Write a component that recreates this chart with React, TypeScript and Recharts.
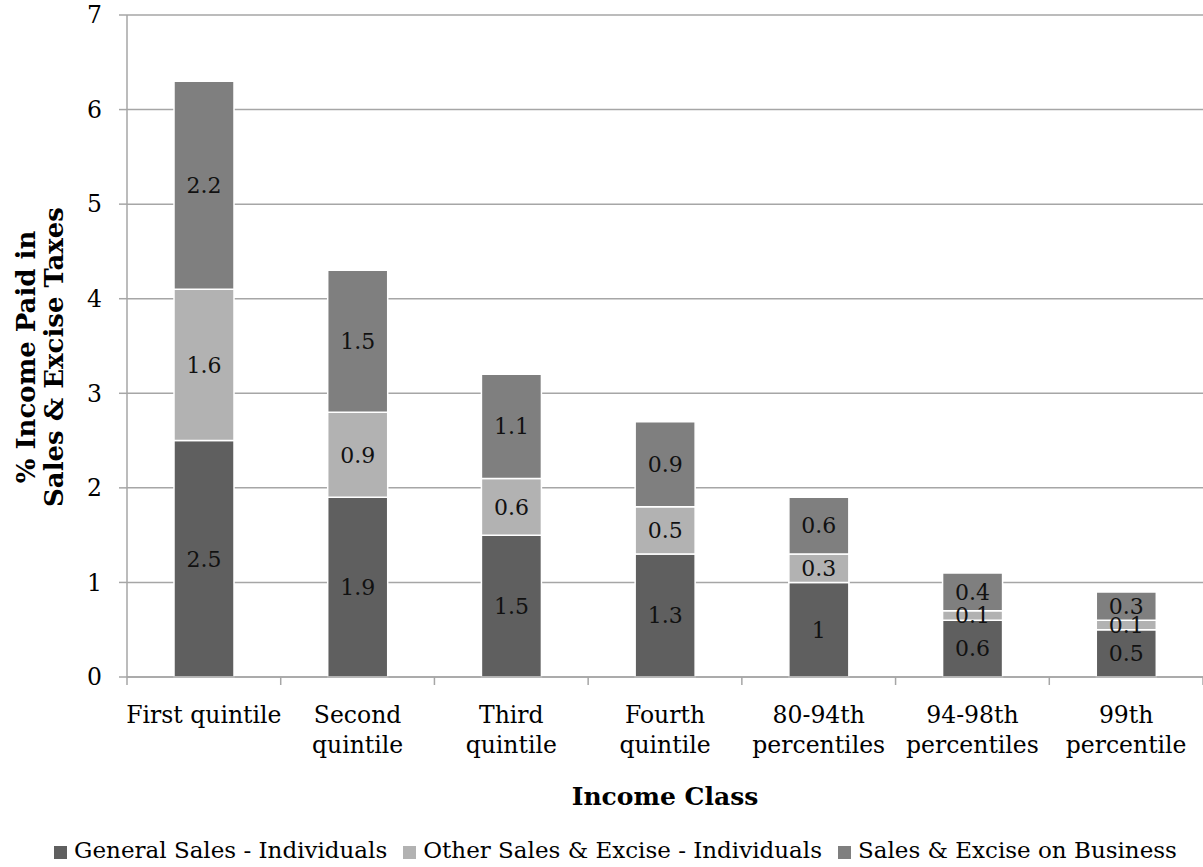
import { BarChart, Bar, XAxis, YAxis, CartesianGrid, Legend, LabelList, Label } from 'recharts';

// income class labels, '\n' marks the line break under the axis
const categories = [
  'First quintile',
  'Second\nquintile',
  'Third\nquintile',
  'Fourth\nquintile',
  '80-94th\npercentiles',
  '94-98th\npercentiles',
  '99th\npercentile',
];
const generalSales = [2.5, 1.9, 1.5, 1.3, 1, 0.6, 0.5];
const otherSales = [1.6, 0.9, 0.6, 0.5, 0.3, 0.1, 0.1];
const businessSales = [2.2, 1.5, 1.1, 0.9, 0.6, 0.4, 0.3];
const yTicks = [0, 1, 2, 3, 4, 5, 6, 7];

const data = categories.map((name, i) => ({
  name,
  general: generalSales[i],
  other: otherSales[i],
  business: businessSales[i],
}));

const FONT = '"DejaVu Serif", serif';
const AXIS = '#a6a6a6';

// label lines plus tick marks on the category boundaries (Excel style)
function CategoryTick(props: any) {
  const { x, y, payload, index, visibleTicksCount } = props;
  const half = payload.offset || 0;
  const lines = String(payload.value).split('\n');
  const last = index === visibleTicksCount - 1;
  return (
    <g transform={`translate(${x},${y})`}>
      <line x1={-half} x2={-half} y1={0} y2={8} stroke={AXIS} strokeWidth={1.5} />
      {last && <line x1={half} x2={half} y1={0} y2={8} stroke={AXIS} strokeWidth={1.5} />}
      {lines.map((line, i) => (
        <text key={i} x={0} y={46 + i * 30} textAnchor='middle' fontSize={23.5} fontFamily={FONT} fill='#000'>
          {line}
        </text>
      ))}
    </g>
  );
}

function YTitle(props: any) {
  const vb = props.viewBox || {};
  const cy = vb.y + vb.height / 2 + 11;
  return (
    <g fontFamily={FONT} fontSize={26} fontWeight='bold' fill='#000'>
      <text transform={`translate(35,${cy}) rotate(-90)`} textAnchor='middle'>
        % Income Paid in
      </text>
      <text transform={`translate(63,${cy}) rotate(-90)`} textAnchor='middle'>
        Sales &amp; Excise Taxes
      </text>
    </g>
  );
}

export default function App() {
  return (
    <div style={{ position: 'absolute', left: 0, top: 0, width: 1203, height: 867, overflow: 'hidden' }}>
      <BarChart
        width={1203}
        height={867}
        data={data}
        margin={{ top: 15, right: 0, left: 0, bottom: 0 }}
        style={{ fontFamily: FONT }}
      >
        <CartesianGrid vertical={false} stroke={AXIS} strokeWidth={1.5} />
        <XAxis
          dataKey='name'
          height={160}
          interval={0}
          tick={<CategoryTick />}
          tickLine={false}
          tickSize={0}
          tickMargin={0}
          stroke={AXIS}
          strokeWidth={1.5}
        >
          <Label
            value='Income Class'
            position='insideBottom'
            offset={32}
            fontSize={25}
            fontWeight='bold'
            fill='#000'
            fontFamily={FONT}
          />
        </XAxis>
        <YAxis
          width={127}
          domain={[0, 7]}
          ticks={yTicks}
          stroke={AXIS}
          strokeWidth={1.5}
          tickSize={8}
          tickMargin={17}
          tick={{ fontSize: 23.5, fill: '#000', fontFamily: FONT }}
          label={<YTitle />}
        />
        <Legend
          verticalAlign='bottom'
          height={30}
          iconType='square'
          iconSize={13}
          wrapperStyle={{ fontSize: 23, fontFamily: FONT, left: 22, whiteSpace: 'nowrap' }}
          formatter={(value: string) => (
            <span style={{ color: '#000', marginLeft: 3, marginRight: 6 }}>{value}</span>
          )}
        />
        <Bar dataKey='general' name='General Sales - Individuals' stackId='a' fill='#5f5f5f' stroke='#fff' strokeWidth={1.5} barSize={60} isAnimationActive={false}>
          <LabelList dataKey='general' position='center' fontSize={22} fill='#111' fontFamily={FONT} />
        </Bar>
        <Bar dataKey='other' name='Other Sales & Excise - Individuals' stackId='a' fill='#b2b2b2' stroke='#fff' strokeWidth={1.5} barSize={60} isAnimationActive={false}>
          <LabelList dataKey='other' position='center' fontSize={22} fill='#111' fontFamily={FONT} />
        </Bar>
        <Bar dataKey='business' name='Sales & Excise on Business' stackId='a' fill='#7f7f7f' stroke='#fff' strokeWidth={1.5} barSize={60} isAnimationActive={false}>
          <LabelList dataKey='business' position='center' fontSize={22} fill='#111' fontFamily={FONT} />
        </Bar>
      </BarChart>
    </div>
  );
}
